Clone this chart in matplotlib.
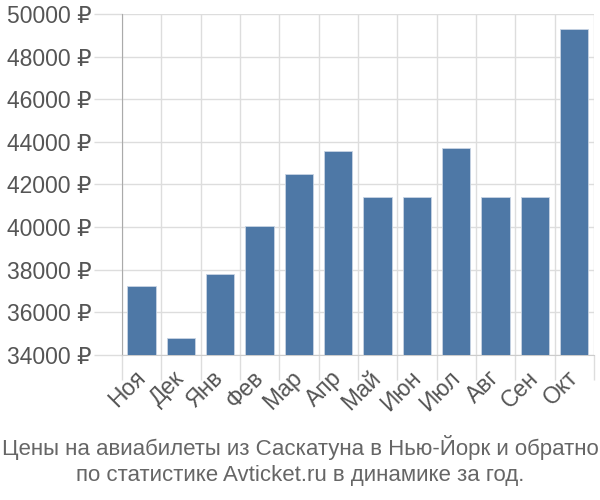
import numpy as np
import matplotlib.pyplot as plt
from matplotlib.ticker import FixedLocator, FuncFormatter

months = ['Ноя', 'Дек', 'Янв', 'Фев', 'Мар', 'Апр', 'Май', 'Июн', 'Июл', 'Авг', 'Сен', 'Окт']
prices = [37250, 34810, 37800, 40070, 42510, 43590, 41410, 41410, 43700, 41410, 41410, 49300]
yticks = [34000, 36000, 38000, 40000, 42000, 44000, 46000, 48000, 50000]
title = 'Цены на авиабилеты из Саскатуна в Нью-Йорк и обратно\nпо статистике Avticket.ru в динамике за год.'

plt.rcParams['font.family'] = ['Liberation Sans', 'DejaVu Sans']

fig = plt.figure(figsize=(6, 5), dpi=100)
ax = fig.add_axes([0.203, 0.29, 0.787, 0.682])

x = np.arange(len(months))
ax.bar(x, prices, width=0.72, color='#4e78a6', edgecolor='#c8d4e3', linewidth=0.6, zorder=3)

ax.set_xlim(-0.5, len(months) - 0.5)
ax.set_ylim(34000, 50000)
ax.set_yticks(yticks)
ax.yaxis.set_major_formatter(FuncFormatter(lambda v, p: f'{int(v)} ₽'))
ax.set_xticks(x)
ax.set_xticklabels(months, rotation=45, ha='right', va='center', rotation_mode='anchor')
ax.xaxis.set_minor_locator(FixedLocator(np.arange(-0.5, len(months), 1.0)))

ax.grid(True, axis='y', color='#dddddd', linewidth=1, zorder=0)
ax.grid(True, axis='x', which='minor', color='#dddddd', linewidth=1, zorder=0)
ax.tick_params(axis='x', which='major', length=0, pad=14, labelsize=16.5, labelcolor='#555555')
ax.tick_params(axis='x', which='minor', length=18, color='#dddddd', width=1)
ax.tick_params(axis='y', length=20, color='#dddddd', width=1, pad=2, labelsize=16.5, labelcolor='#555555')

for s in ['top', 'right']:
    ax.spines[s].set_visible(False)
ax.spines['left'].set_color('#aaaaaa')
ax.spines['bottom'].set_color('#cccccc')

fig.text(0.5, 0.028, title, ha='center', va='bottom', fontsize=16, color='#666666', linespacing=1.3)

fig.savefig('out.png', dpi=100)
